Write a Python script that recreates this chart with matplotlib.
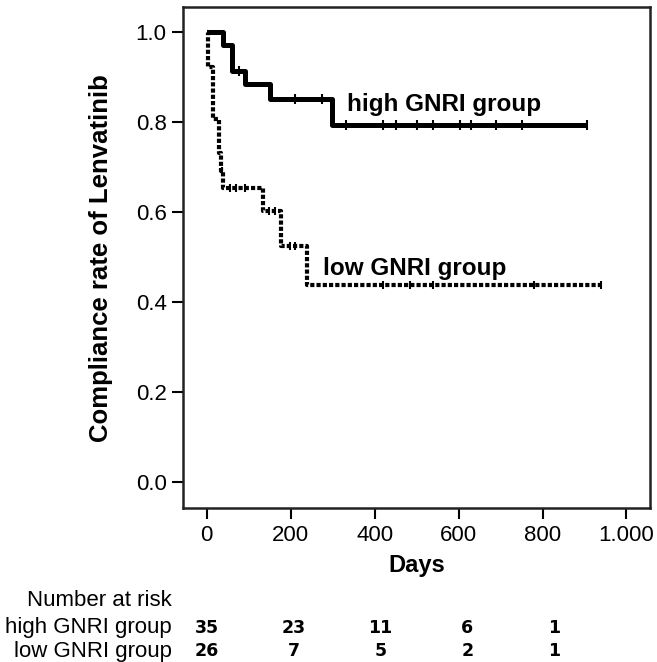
import matplotlib
matplotlib.use("Agg")
import matplotlib.pyplot as plt
import matplotlib.transforms as mtransforms

plt.rcParams['font.family'] = ['Liberation Sans', 'DejaVu Sans']

# Kaplan-Meier steps (days, compliance rate)
high_times = [0, 38, 60, 91, 151, 299, 905]
high_surv = [1.0, 0.971, 0.914, 0.886, 0.851, 0.794, 0.794]
high_censor = [78, 210, 274, 331, 420, 450, 500, 540, 603, 629, 690, 751, 905]

low_times = [0, 4, 15, 30, 34, 38, 135, 178, 240, 940]
low_surv = [1.0, 0.923, 0.808, 0.731, 0.692, 0.654, 0.603, 0.525, 0.438, 0.438]
low_censor = [36, 55, 71, 91, 149, 163, 198, 210, 420, 484, 540, 779, 940]

xticks = [0, 200, 400, 600, 800, 1000]
xtick_labels = ["0", "200", "400", "600", "800", "1.000"]
yticks = [0.0, 0.2, 0.4, 0.6, 0.8, 1.0]

risk_days = [0, 200, 400, 600, 800]
risk_high = [35, 23, 11, 6, 1]
risk_low = [26, 7, 5, 2, 1]


def surv_at(times, surv, t):
    val = surv[0]
    for ti, si in zip(times, surv):
        if ti <= t:
            val = si
    return val


fig = plt.figure(figsize=(6.57, 6.62), dpi=100)
ax = fig.add_axes([0.279, 0.2326, 0.710, 0.7564])

ax.step(high_times, high_surv, where="post", color="black", lw=3.6,
        solid_capstyle="butt")
ax.step(low_times, low_surv, where="post", color="black", lw=3.0,
        linestyle=(0, (1, 0.5)), dash_capstyle="butt")

ax.plot(high_censor, [surv_at(high_times, high_surv, t) for t in high_censor],
        linestyle="none", marker="|", color="black", ms=7, mew=1.5)
ax.plot(low_censor, [surv_at(low_times, low_surv, t) for t in low_censor],
        linestyle="none", marker="|", color="black", ms=6, mew=1.5)

ax.text(334, 0.826, "high GNRI group", fontsize=17.5, fontweight="bold",
        va="baseline", ha="left")
ax.text(277, 0.461, "low GNRI group", fontsize=17.5, fontweight="bold",
        va="baseline", ha="left")

ax.set_xlim(-55.7, 1055.5)
ax.set_ylim(-0.057, 1.0556)
ax.set_xticks(xticks)
ax.set_xticklabels(xtick_labels)
ax.set_yticks(yticks)
ax.set_yticklabels([f"{v:.1f}" for v in yticks])
ax.tick_params(direction="out", length=8, width=1.5, labelsize=16, pad=4)

for sp in ax.spines.values():
    sp.set_linewidth(1.8)
    sp.set_color("#222222")

ax.set_xlabel("Days", fontsize=17, fontweight="bold", labelpad=6)
ax.set_ylabel("Compliance rate of Lenvatinib", fontsize=18.5,
              fontweight="bold")
ax.yaxis.set_label_coords(-0.151, 0.5)

# number at risk table
label_x = 172 / 657
row_y = [1 - 600 / 662, 1 - 628 / 662, 1 - 651 / 662]
fig.text(label_x, row_y[0], "Number at risk", fontsize=16,
         ha="right", va="center")
fig.text(label_x, row_y[1], "high GNRI group", fontsize=16,
         ha="right", va="center")
fig.text(label_x, row_y[2], "low GNRI group", fontsize=16,
         ha="right", va="center")

trans = mtransforms.blended_transform_factory(ax.transData, fig.transFigure)
for d, nh, nl in zip(risk_days, risk_high, risk_low):
    xpos = d * 1.035
    ax.text(xpos, row_y[1], str(nh), transform=trans, fontsize=12.5,
            fontweight="bold", ha="center", va="center",
            family=["Liberation Sans Narrow", "DejaVu Sans"])
    ax.text(xpos, row_y[2], str(nl), transform=trans, fontsize=12.5,
            fontweight="bold", ha="center", va="center",
            family=["Liberation Sans Narrow", "DejaVu Sans"])

fig.savefig("out.png", dpi=100)
